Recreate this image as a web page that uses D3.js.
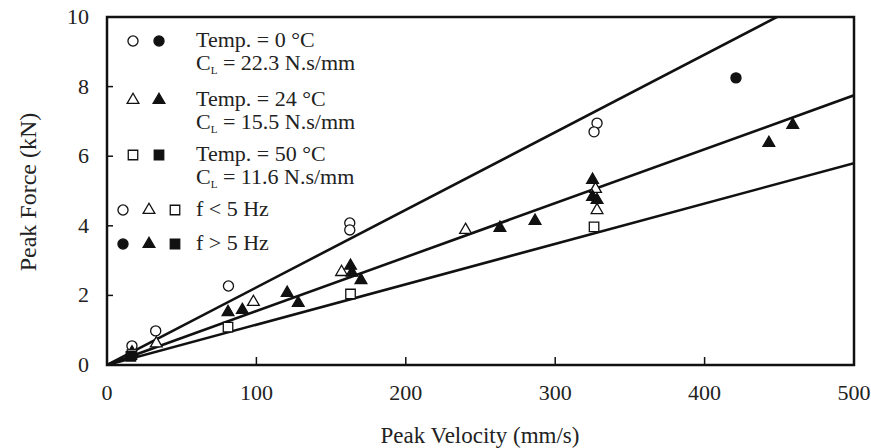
<!DOCTYPE html>
<html>
<head>
<meta charset="utf-8">
<script src="https://cdn.jsdelivr.net/npm/d3@7"></script>
<style>
  body { margin: 0; background: #fff; }
  svg text { font-family: "Liberation Serif", "DejaVu Serif", serif; fill: #222; }
</style>
</head>
<body>
<div id="chart"></div>
<script>
// tick values
const xTicks = [0, 100, 200, 300, 400, 500];
const yTicks = [0, 2, 4, 6, 8, 10];

// damping coefficients (N.s/mm) of the fitted lines
const temps = ["0", "24", "50"];
const coeffs = [22.3, 15.5, 11.6];

// [velocity mm/s, force kN]
const temp0Open = [[16.7, 0.55], [32.6, 0.98], [81.3, 2.27], [162.5, 4.08], [162.5, 3.88], [328, 6.95], [326, 6.7]];
const temp0Filled = [[421, 8.25]];
const temp24Open = [[33, 0.62], [98, 1.81], [157, 2.67], [240, 3.88], [327, 5.06], [328, 4.45]];
const temp24Filled = [[16.7, 0.36], [81, 1.52], [90.6, 1.58], [120.6, 2.07], [128, 1.78], [163, 2.85], [164, 2.65],
  [170, 2.44], [263, 3.94], [286.5, 4.14], [325, 5.32], [325, 4.83], [328, 4.74], [443, 6.38], [459, 6.9]];
const temp50Open = [[16.7, 0.3], [81, 1.09], [163, 2.04], [326, 3.97]];
const temp50Filled = [[16, 0.25]];

const width = 871, height = 448;
const margin = {left: 107, right: 17, top: 17, bottom: 83};

const svg = d3.select("#chart").append("svg")
  .attr("width", width)
  .attr("height", height);

const x = d3.scaleLinear().domain([0, 500]).range([margin.left, width - margin.right]);
const y = d3.scaleLinear().domain([0, 10]).range([height - margin.bottom, margin.top]);

// marker shapes
const shapes = [d3.symbolCircle, d3.symbolTriangle, d3.symbolSquare];
const sizes = [80, 60, 90];
const sym = (i) => d3.symbol().type(shapes[i]).size(sizes[i]);

svg.append("clipPath").attr("id", "plot")
  .append("rect")
  .attr("x", x(0)).attr("y", y(10))
  .attr("width", x(500) - x(0)).attr("height", y(0) - y(10));

// fitted lines
const line = d3.line().x(d => x(d[0])).y(d => y(d[1]));
svg.append("g").attr("clip-path", "url(#plot)")
  .selectAll("path")
  .data(coeffs)
  .join("path")
  .attr("d", c => line([[0, 0], [500, c * 500 / 1000]]))
  .attr("fill", "none")
  .attr("stroke", "#111")
  .attr("stroke-width", 2.6);

// data points
const groups = [
  {data: temp0Open, s: 0, filled: false},
  {data: temp0Filled, s: 0, filled: true},
  {data: temp24Open, s: 1, filled: false},
  {data: temp24Filled, s: 1, filled: true},
  {data: temp50Open, s: 2, filled: false},
  {data: temp50Filled, s: 2, filled: true}
];
groups.forEach(g => {
  svg.append("g").selectAll("path")
    .data(g.data)
    .join("path")
    .attr("transform", d => `translate(${x(d[0])},${y(d[1])})`)
    .attr("d", sym(g.s))
    .attr("fill", g.filled ? "#111" : "#fff")
    .attr("stroke", "#111")
    .attr("stroke-width", 1.3);
});

// frame and ticks
svg.append("rect")
  .attr("x", x(0)).attr("y", y(10))
  .attr("width", x(500) - x(0)).attr("height", y(0) - y(10))
  .attr("fill", "none").attr("stroke", "#111").attr("stroke-width", 2.5);

svg.append("g").selectAll("line")
  .data(xTicks.slice(1, -1))
  .join("line")
  .attr("x1", d => x(d)).attr("x2", d => x(d))
  .attr("y1", y(0)).attr("y2", y(0) - 8)
  .attr("stroke", "#111").attr("stroke-width", 1.5);

svg.append("g").selectAll("line")
  .data(yTicks.slice(1, -1))
  .join("line")
  .attr("x1", x(0)).attr("x2", x(0) + 6)
  .attr("y1", d => y(d)).attr("y2", d => y(d))
  .attr("stroke", "#111").attr("stroke-width", 1.5);

// tick labels
svg.append("g").selectAll("text")
  .data(xTicks)
  .join("text")
  .attr("x", d => x(d))
  .attr("y", y(0) + 35)
  .attr("text-anchor", "middle")
  .style("font-size", "22px")
  .text(d => d);

svg.append("g").selectAll("text")
  .data(yTicks)
  .join("text")
  .attr("x", 89)
  .attr("y", d => y(d) + 7)
  .attr("text-anchor", "end")
  .style("font-size", "22px")
  .text(d => d);

// axis titles
svg.append("text")
  .attr("x", 480).attr("y", 443)
  .attr("text-anchor", "middle")
  .style("font-size", "23px")
  .text("Peak Velocity (mm/s)");

svg.append("text")
  .attr("transform", "translate(36,192) rotate(-90)")
  .attr("text-anchor", "middle")
  .style("font-size", "24px")
  .text("Peak Force (kN)");

// legend
const legend = svg.append("g");
const rowY = [41, 100, 155];
temps.forEach((t, i) => {
  [false, true].forEach((filled, j) => {
    legend.append("path")
      .attr("transform", `translate(${133 + j * 26},${rowY[i]})`)
      .attr("d", sym(i))
      .attr("fill", filled ? "#111" : "#fff")
      .attr("stroke", "#111").attr("stroke-width", 1.3);
  });
  legend.append("text")
    .attr("x", 196).attr("y", rowY[i] + 6)
    .style("font-size", "22px")
    .text(`Temp. = ${t} °C`);
  const cl = legend.append("text")
    .attr("x", 196).attr("y", rowY[i] + 29)
    .style("font-size", "22px");
  cl.append("tspan").text("C");
  cl.append("tspan").attr("dy", 4).style("font-size", "11px").text("L");
  cl.append("tspan").attr("dy", -4).text(` = ${coeffs[i]} N.s/mm`);
});

const freqRows = [{y: 210, filled: false, label: "f < 5 Hz"}, {y: 244, filled: true, label: "f > 5 Hz"}];
freqRows.forEach(r => {
  [0, 1, 2].forEach(k => {
    legend.append("path")
      .attr("transform", `translate(${123 + k * 26},${r.y})`)
      .attr("d", sym(k))
      .attr("fill", r.filled ? "#111" : "#fff")
      .attr("stroke", "#111").attr("stroke-width", 1.3);
  });
  legend.append("text")
    .attr("x", 196).attr("y", r.y + 6)
    .style("font-size", "22px")
    .text(r.label);
});
</script>
</body>
</html>
